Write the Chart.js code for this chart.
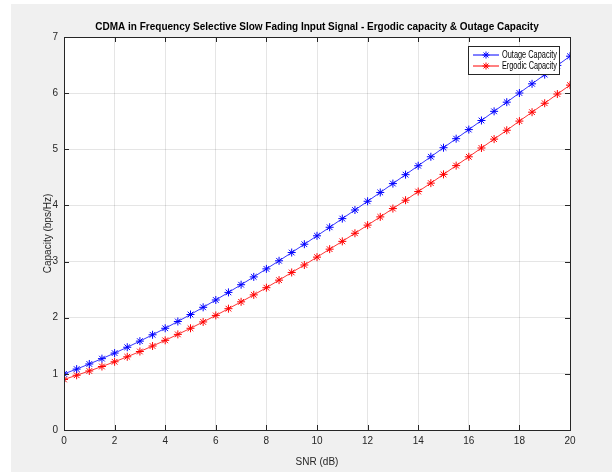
<!DOCTYPE html>
<html>
<head>
<meta charset="utf-8">
<script src="https://cdn.jsdelivr.net/npm/chart.js@4/dist/chart.umd.min.js"></script>
<style>
  body { margin: 0; background: #fff; }
  #bg { position: absolute; left: 11px; top: 4px; width: 601px; height: 468px; background: #f0f0f0; }
  #capChart { position: absolute; left: 0; top: 0; }
</style>
</head>
<body>
<div id="bg"></div>
<canvas id="capChart" width="612" height="472"></canvas>
<script>
const snrDb = [0, 0.5, 1, 1.5, 2, 2.5, 3, 3.5, 4, 4.5, 5, 5.5, 6, 6.5, 7, 7.5, 8, 8.5, 9, 9.5,
  10, 10.5, 11, 11.5, 12, 12.5, 13, 13.5, 14, 14.5, 15, 15.5, 16, 16.5, 17, 17.5, 18, 18.5, 19, 19.5, 20];
const outageCap = [1.000, 1.085, 1.176, 1.271, 1.370, 1.474, 1.583, 1.696, 1.812, 1.933, 2.057,
  2.185, 2.316, 2.451, 2.588, 2.727, 2.870, 3.014, 3.161, 3.309, 3.459, 3.611, 3.765, 3.919,
  4.074, 4.231, 4.389, 4.548, 4.707, 4.867, 5.028, 5.189, 5.351, 5.513, 5.676, 5.839, 6.002,
  6.166, 6.330, 6.494, 6.658];
const ergodicCap = [0.900, 0.975, 1.051, 1.131, 1.215, 1.304, 1.398, 1.496, 1.597, 1.703, 1.812,
  1.925, 2.041, 2.161, 2.283, 2.407, 2.535, 2.669, 2.806, 2.939, 3.079, 3.221, 3.360, 3.504,
  3.649, 3.796, 3.944, 4.093, 4.247, 4.397, 4.553, 4.709, 4.866, 5.023, 5.181, 5.339, 5.502,
  5.661, 5.820, 5.984, 6.143];
const xTicks = [0, 2, 4, 6, 8, 10, 12, 14, 16, 18, 20];
const yTicks = [0, 1, 2, 3, 4, 5, 6, 7];

const axisColor = "#262626";
const font = "'Liberation Sans', Arial, sans-serif";

// white plot area, box and inward tick marks like matlab
const matlabBox = {
  id: "matlabBox",
  beforeDraw(chart) {
    const { ctx, chartArea: a } = chart;
    ctx.save();
    ctx.fillStyle = "#fff";
    ctx.fillRect(a.left, a.top, a.right - a.left, a.bottom - a.top);
    ctx.restore();
  },
  afterDatasetsDraw(chart) {
    const { ctx, chartArea: a, scales } = chart;
    ctx.save();
    ctx.strokeStyle = axisColor;
    ctx.lineWidth = 1;
    ctx.beginPath();
    xTicks.forEach(v => {
      const px = Math.round(scales.x.getPixelForValue(v)) + 0.5;
      ctx.moveTo(px, a.bottom); ctx.lineTo(px, a.bottom - 5);
      ctx.moveTo(px, a.top); ctx.lineTo(px, a.top + 5);
    });
    yTicks.forEach(v => {
      const py = Math.round(scales.y.getPixelForValue(v)) + 0.5;
      ctx.moveTo(a.left, py); ctx.lineTo(a.left + 5, py);
      ctx.moveTo(a.right, py); ctx.lineTo(a.right - 5, py);
    });
    ctx.stroke();
    ctx.strokeRect(Math.round(a.left) + 0.5, Math.round(a.top) + 0.5,
      Math.round(a.right - a.left), Math.round(a.bottom - a.top));

    // legend box in the top right corner
    const bx = a.right - 102, by = a.top + 9, bw = 91, bh = 28;
    ctx.fillStyle = "#fff";
    ctx.fillRect(bx, by, bw, bh);
    ctx.strokeRect(bx + 0.5, by + 0.5, bw, bh);
    ctx.font = "10px " + font;
    ctx.textBaseline = "middle";
    chart.data.datasets.forEach((ds, i) => {
      const y = by + 9 + i * 11;
      ctx.strokeStyle = ds.borderColor;
      ctx.beginPath();
      ctx.moveTo(bx + 5, y); ctx.lineTo(bx + 31, y);
      ctx.stroke();
      const r = 3.5, d = r * 0.707;
      ctx.beginPath();
      const cx = bx + 18;
      ctx.moveTo(cx - r, y); ctx.lineTo(cx + r, y);
      ctx.moveTo(cx, y - r); ctx.lineTo(cx, y + r);
      ctx.moveTo(cx - d, y - d); ctx.lineTo(cx + d, y + d);
      ctx.moveTo(cx - d, y + d); ctx.lineTo(cx + d, y - d);
      ctx.stroke();
      ctx.fillStyle = "#000";
      ctx.fillText(ds.label, bx + 34, y, 55);
    });
    ctx.restore();
  }
};

const ctx = document.getElementById("capChart").getContext("2d");

new Chart(ctx, {
  type: "line",
  data: {
    datasets: [
      {
        label: "Outage Capacity",
        data: snrDb.map((x, i) => ({ x: x, y: outageCap[i] })),
        borderColor: "#0000ff",
        backgroundColor: "#0000ff",
        borderWidth: 0.8,
        pointStyle: "star",
        pointRadius: 4,
        pointBorderWidth: 1,
        tension: 0,
      },
      {
        label: "Ergodic Capacity",
        data: snrDb.map((x, i) => ({ x: x, y: ergodicCap[i] })),
        borderColor: "#ff0000",
        backgroundColor: "#ff0000",
        borderWidth: 0.8,
        pointStyle: "star",
        pointRadius: 4,
        pointBorderWidth: 1,
        tension: 0,
      },
    ],
  },
  options: {
    responsive: false,
    animation: false,
    layout: { padding: { left: 0, right: 42, top: 0, bottom: 0 } },
    plugins: {
      legend: { display: false },
      tooltip: { enabled: false },
      title: {
        display: true,
        fullSize: false,
        text: "CDMA in Frequency Selective Slow Fading Input Signal - Ergodic capacity & Outage Capacity",
        color: "#000",
        font: { family: font, size: 10, weight: "bold", lineHeight: 1.2 },
        padding: { top: 21, bottom: 4 },
      },
    },
    scales: {
      x: {
        type: "linear",
        min: 0,
        max: 20,
        afterFit: s => { s.height = 42; },
        afterBuildTicks: s => { s.ticks = xTicks.map(v => ({ value: v })); },
        grid: { color: "rgba(0,0,0,0.1)", drawTicks: false },
        border: { display: false },
        ticks: { color: axisColor, font: { family: font, size: 10 }, padding: 5, maxRotation: 0 },
        title: {
          display: true,
          text: "SNR (dB)",
          color: axisColor,
          font: { family: font, size: 10, lineHeight: 1.2 },
          padding: { top: 8 },
        },
      },
      y: {
        min: 0,
        max: 7,
        afterFit: s => { s.width = 64; },
        afterBuildTicks: s => { s.ticks = yTicks.map(v => ({ value: v })); },
        grid: { color: "rgba(0,0,0,0.1)", drawTicks: false },
        border: { display: false },
        ticks: { color: axisColor, font: { family: font, size: 10 }, padding: 6 },
        title: {
          display: true,
          text: "Capacity (bps/Hz)",
          color: axisColor,
          font: { family: font, size: 10, lineHeight: 1.2 },
          padding: { top: 42 },
        },
      },
    },
  },
  plugins: [matlabBox],
});
</script>
</body>
</html>
